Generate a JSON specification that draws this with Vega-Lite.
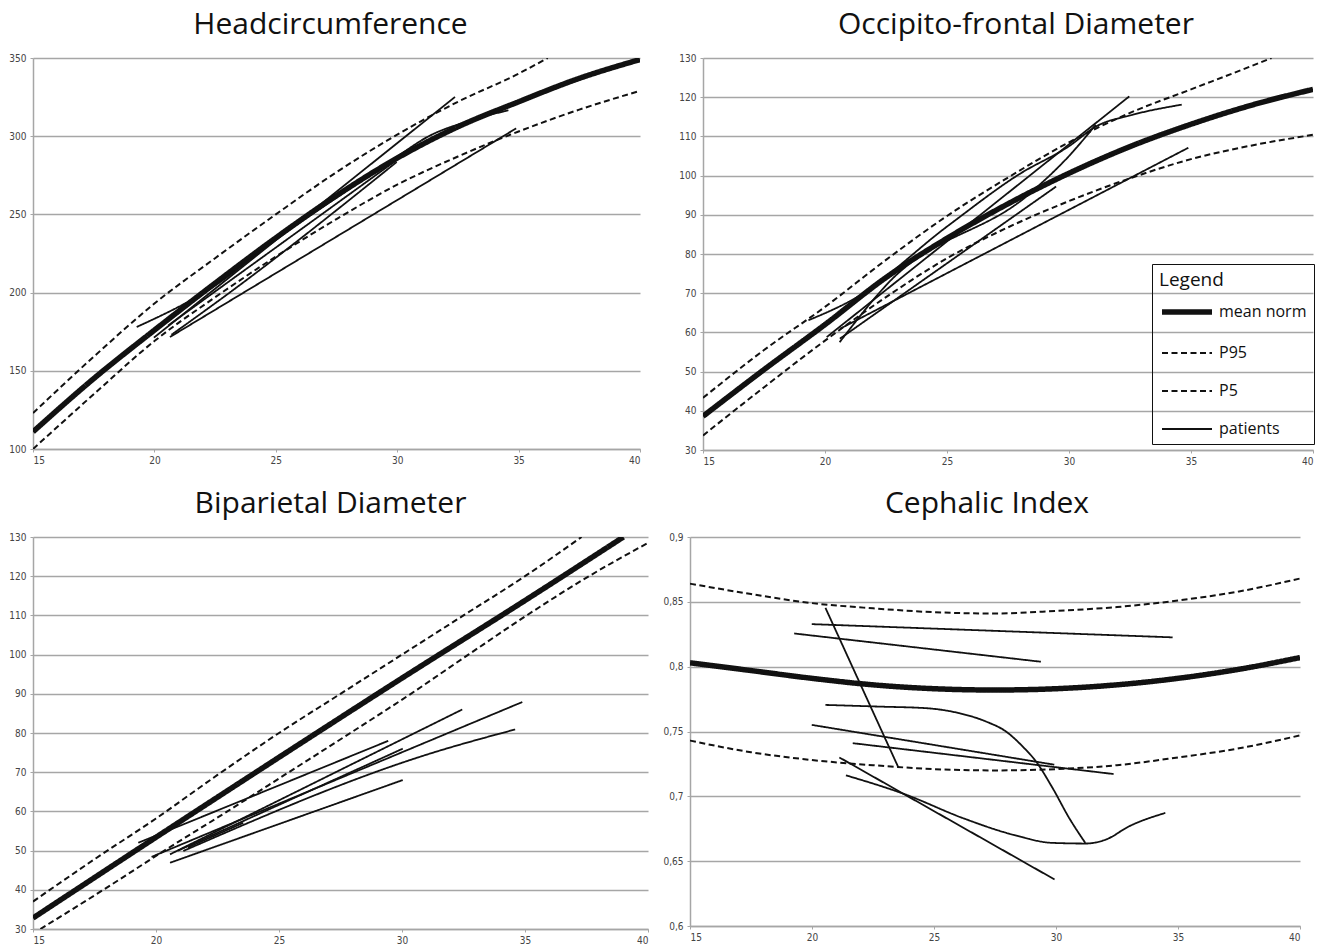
{
  "$schema": "https://vega.github.io/schema/vega-lite/v6.json",
  "padding": {"left": 5, "top": 10, "right": 5, "bottom": 5},
  "background": "white",
  "config": {
    "view": {"stroke": null},
    "font": "Open Sans",
    "title": {"font": "Open Sans", "fontSize": 30, "fontWeight": "normal", "color": "#111", "anchor": "middle", "offset": 13, "baseline": "alphabetic"},
    "axis": {"domainColor": "#a6a6a6", "domainWidth": 1.5, "gridColor": "#a6a6a6", "gridWidth": 1.5, "tickColor": "#a6a6a6", "tickSize": 3, "labelFont": "DejaVu Sans Condensed, Liberation Sans, sans-serif", "labelFontSize": 10, "labelColor": "#444", "title": null},
    "axisX": {"grid": false, "labelPadding": 3},
    "axisY": {"grid": true, "labelPadding": 4, "minExtent": 28, "maxExtent": 28}
  },
  "datasets": {
    "hc": [
      {"id": "mean", "kind": "mean norm", "x": 15, "y": 111}, {"id": "mean", "kind": "mean norm", "x": 17.5, "y": 145}, {"id": "mean", "kind": "mean norm", "x": 20, "y": 176}, {"id": "mean", "kind": "mean norm", "x": 22.5, "y": 206}, {"id": "mean", "kind": "mean norm", "x": 25, "y": 235}, {"id": "mean", "kind": "mean norm", "x": 27.5, "y": 262}, {"id": "mean", "kind": "mean norm", "x": 30, "y": 286}, {"id": "mean", "kind": "mean norm", "x": 32.5, "y": 306}, {"id": "mean", "kind": "mean norm", "x": 35, "y": 322}, {"id": "mean", "kind": "mean norm", "x": 37.5, "y": 337}, {"id": "mean", "kind": "mean norm", "x": 40, "y": 349},
      {"id": "p95", "kind": "P95", "x": 15, "y": 123}, {"id": "p95", "kind": "P95", "x": 17.5, "y": 159}, {"id": "p95", "kind": "P95", "x": 20, "y": 193}, {"id": "p95", "kind": "P95", "x": 22.5, "y": 222}, {"id": "p95", "kind": "P95", "x": 25, "y": 250}, {"id": "p95", "kind": "P95", "x": 27.5, "y": 277}, {"id": "p95", "kind": "P95", "x": 30, "y": 301}, {"id": "p95", "kind": "P95", "x": 32.5, "y": 322}, {"id": "p95", "kind": "P95", "x": 35, "y": 340}, {"id": "p95", "kind": "P95", "x": 36.2, "y": 350},
      {"id": "p5", "kind": "P5", "x": 15, "y": 100}, {"id": "p5", "kind": "P5", "x": 17.5, "y": 135}, {"id": "p5", "kind": "P5", "x": 20, "y": 169}, {"id": "p5", "kind": "P5", "x": 22.5, "y": 197}, {"id": "p5", "kind": "P5", "x": 25, "y": 223}, {"id": "p5", "kind": "P5", "x": 27.5, "y": 247}, {"id": "p5", "kind": "P5", "x": 30, "y": 269}, {"id": "p5", "kind": "P5", "x": 32.5, "y": 287}, {"id": "p5", "kind": "P5", "x": 35, "y": 303}, {"id": "p5", "kind": "P5", "x": 37.5, "y": 317}, {"id": "p5", "kind": "P5", "x": 40, "y": 329},
      {"id": "h1", "kind": "patients", "x": 19.27, "y": 178}, {"id": "h1", "kind": "patients", "x": 22.4, "y": 203.5}, {"id": "h1", "kind": "patients", "x": 25, "y": 234}, {"id": "h1", "kind": "patients", "x": 28, "y": 266}, {"id": "h1", "kind": "patients", "x": 30, "y": 287}, {"id": "h1", "kind": "patients", "x": 31.3, "y": 300}, {"id": "h1", "kind": "patients", "x": 32.8, "y": 309}, {"id": "h1", "kind": "patients", "x": 34.58, "y": 316.6},
      {"id": "h2", "kind": "patients", "x": 19.98, "y": 171.2}, {"id": "h2", "kind": "patients", "x": 32.38, "y": 325.1},
      {"id": "h3", "kind": "patients", "x": 20.57, "y": 179}, {"id": "h3", "kind": "patients", "x": 30.0, "y": 285},
      {"id": "h4", "kind": "patients", "x": 20.64, "y": 171.6}, {"id": "h4", "kind": "patients", "x": 34.9, "y": 305},
      {"id": "h5", "kind": "patients", "x": 20.7, "y": 173}, {"id": "h5", "kind": "patients", "x": 23.1, "y": 200}, {"id": "h5", "kind": "patients", "x": 29.98, "y": 283.5}
    ],
    "ofd": [
      {"id": "mean", "kind": "mean norm", "x": 15, "y": 38.6}, {"id": "mean", "kind": "mean norm", "x": 17.5, "y": 50.5}, {"id": "mean", "kind": "mean norm", "x": 20, "y": 62}, {"id": "mean", "kind": "mean norm", "x": 22.5, "y": 74}, {"id": "mean", "kind": "mean norm", "x": 25, "y": 84}, {"id": "mean", "kind": "mean norm", "x": 27.5, "y": 92.8}, {"id": "mean", "kind": "mean norm", "x": 30, "y": 100.6}, {"id": "mean", "kind": "mean norm", "x": 32.5, "y": 107.4}, {"id": "mean", "kind": "mean norm", "x": 35, "y": 113.1}, {"id": "mean", "kind": "mean norm", "x": 37.5, "y": 118}, {"id": "mean", "kind": "mean norm", "x": 40, "y": 122},
      {"id": "p95", "kind": "P95", "x": 15, "y": 43.3}, {"id": "p95", "kind": "P95", "x": 17.5, "y": 55.5}, {"id": "p95", "kind": "P95", "x": 20, "y": 66.5}, {"id": "p95", "kind": "P95", "x": 22.5, "y": 78.5}, {"id": "p95", "kind": "P95", "x": 25, "y": 89.7}, {"id": "p95", "kind": "P95", "x": 27.5, "y": 99.5}, {"id": "p95", "kind": "P95", "x": 30, "y": 108.5}, {"id": "p95", "kind": "P95", "x": 32.5, "y": 116}, {"id": "p95", "kind": "P95", "x": 35, "y": 122}, {"id": "p95", "kind": "P95", "x": 37.5, "y": 128}, {"id": "p95", "kind": "P95", "x": 38.3, "y": 130},
      {"id": "p5", "kind": "P5", "x": 15, "y": 33.7}, {"id": "p5", "kind": "P5", "x": 17.5, "y": 46}, {"id": "p5", "kind": "P5", "x": 20, "y": 57.9}, {"id": "p5", "kind": "P5", "x": 22.5, "y": 69}, {"id": "p5", "kind": "P5", "x": 25, "y": 78.9}, {"id": "p5", "kind": "P5", "x": 27.5, "y": 86.8}, {"id": "p5", "kind": "P5", "x": 30, "y": 93.5}, {"id": "p5", "kind": "P5", "x": 32.5, "y": 99.3}, {"id": "p5", "kind": "P5", "x": 35, "y": 104.2}, {"id": "p5", "kind": "P5", "x": 37.5, "y": 107.7}, {"id": "p5", "kind": "P5", "x": 40, "y": 110.4},
      {"id": "o1", "kind": "patients", "x": 19.32, "y": 63.1}, {"id": "o1", "kind": "patients", "x": 21.2, "y": 68.6}, {"id": "o1", "kind": "patients", "x": 25, "y": 87}, {"id": "o1", "kind": "patients", "x": 28, "y": 100.5}, {"id": "o1", "kind": "patients", "x": 30, "y": 107.5}, {"id": "o1", "kind": "patients", "x": 31.1, "y": 112.5}, {"id": "o1", "kind": "patients", "x": 32.6, "y": 115.5}, {"id": "o1", "kind": "patients", "x": 34.62, "y": 118.1},
      {"id": "o2", "kind": "patients", "x": 20.07, "y": 58.8}, {"id": "o2", "kind": "patients", "x": 32.47, "y": 120.2},
      {"id": "o3", "kind": "patients", "x": 20.61, "y": 58.4}, {"id": "o3", "kind": "patients", "x": 29.47, "y": 97.2},
      {"id": "o4", "kind": "patients", "x": 20.61, "y": 60.9}, {"id": "o4", "kind": "patients", "x": 34.89, "y": 107.1},
      {"id": "o5", "kind": "patients", "x": 20.6, "y": 57.5}, {"id": "o5", "kind": "patients", "x": 22.5, "y": 72}, {"id": "o5", "kind": "patients", "x": 28.5, "y": 96}, {"id": "o5", "kind": "patients", "x": 30.0, "y": 105}, {"id": "o5", "kind": "patients", "x": 31.1, "y": 113}
    ],
    "bpd": [
      {"id": "mean", "kind": "mean norm", "x": 15, "y": 32.8}, {"id": "mean", "kind": "mean norm", "x": 20, "y": 53.4}, {"id": "mean", "kind": "mean norm", "x": 25, "y": 73.8}, {"id": "mean", "kind": "mean norm", "x": 30, "y": 94}, {"id": "mean", "kind": "mean norm", "x": 35, "y": 113.8}, {"id": "mean", "kind": "mean norm", "x": 39, "y": 130},
      {"id": "p95", "kind": "P95", "x": 15, "y": 37}, {"id": "p95", "kind": "P95", "x": 17.5, "y": 47.8}, {"id": "p95", "kind": "P95", "x": 20, "y": 58.2}, {"id": "p95", "kind": "P95", "x": 22.5, "y": 69.3}, {"id": "p95", "kind": "P95", "x": 25, "y": 80}, {"id": "p95", "kind": "P95", "x": 27.5, "y": 90}, {"id": "p95", "kind": "P95", "x": 30, "y": 100}, {"id": "p95", "kind": "P95", "x": 32.5, "y": 110}, {"id": "p95", "kind": "P95", "x": 35, "y": 120}, {"id": "p95", "kind": "P95", "x": 37.3, "y": 130},
      {"id": "p5", "kind": "P5", "x": 15.3, "y": 30}, {"id": "p5", "kind": "P5", "x": 17.86, "y": 40}, {"id": "p5", "kind": "P5", "x": 20.34, "y": 50}, {"id": "p5", "kind": "P5", "x": 22.9, "y": 60}, {"id": "p5", "kind": "P5", "x": 25.4, "y": 70}, {"id": "p5", "kind": "P5", "x": 27.9, "y": 80}, {"id": "p5", "kind": "P5", "x": 30.36, "y": 90}, {"id": "p5", "kind": "P5", "x": 32.7, "y": 100}, {"id": "p5", "kind": "P5", "x": 35.07, "y": 110}, {"id": "p5", "kind": "P5", "x": 37.6, "y": 120}, {"id": "p5", "kind": "P5", "x": 40, "y": 128.5},
      {"id": "b1", "kind": "patients", "x": 19.28, "y": 52.0}, {"id": "b1", "kind": "patients", "x": 29.44, "y": 78.0},
      {"id": "b2", "kind": "patients", "x": 19.82, "y": 48.4}, {"id": "b2", "kind": "patients", "x": 34.89, "y": 87.9},
      {"id": "b3", "kind": "patients", "x": 20.57, "y": 49.05}, {"id": "b3", "kind": "patients", "x": 32.45, "y": 86.0},
      {"id": "b4", "kind": "patients", "x": 21.11, "y": 49.9}, {"id": "b4", "kind": "patients", "x": 31.27, "y": 75.0}, {"id": "b4", "kind": "patients", "x": 34.6, "y": 80.9},
      {"id": "b5", "kind": "patients", "x": 20.9, "y": 50.0}, {"id": "b5", "kind": "patients", "x": 30.03, "y": 76.0},
      {"id": "b6", "kind": "patients", "x": 20.57, "y": 46.9}, {"id": "b6", "kind": "patients", "x": 30.03, "y": 68.0},
      {"id": "b7", "kind": "patients", "x": 21.3, "y": 50.8}, {"id": "b7", "kind": "patients", "x": 23.55, "y": 57.1}
    ],
    "ci": [
      {"id": "mean", "kind": "mean norm", "x": 15, "y": 0.803}, {"id": "mean", "kind": "mean norm", "x": 17.5, "y": 0.797}, {"id": "mean", "kind": "mean norm", "x": 20, "y": 0.791}, {"id": "mean", "kind": "mean norm", "x": 22.5, "y": 0.786}, {"id": "mean", "kind": "mean norm", "x": 25, "y": 0.783}, {"id": "mean", "kind": "mean norm", "x": 27.5, "y": 0.782}, {"id": "mean", "kind": "mean norm", "x": 30, "y": 0.783}, {"id": "mean", "kind": "mean norm", "x": 32.5, "y": 0.786}, {"id": "mean", "kind": "mean norm", "x": 35, "y": 0.791}, {"id": "mean", "kind": "mean norm", "x": 37.5, "y": 0.798}, {"id": "mean", "kind": "mean norm", "x": 40, "y": 0.807},
      {"id": "p95", "kind": "P95", "x": 15, "y": 0.864}, {"id": "p95", "kind": "P95", "x": 17.5, "y": 0.856}, {"id": "p95", "kind": "P95", "x": 20, "y": 0.849}, {"id": "p95", "kind": "P95", "x": 22.5, "y": 0.845}, {"id": "p95", "kind": "P95", "x": 25, "y": 0.842}, {"id": "p95", "kind": "P95", "x": 27.5, "y": 0.841}, {"id": "p95", "kind": "P95", "x": 30, "y": 0.843}, {"id": "p95", "kind": "P95", "x": 32.5, "y": 0.846}, {"id": "p95", "kind": "P95", "x": 35, "y": 0.851}, {"id": "p95", "kind": "P95", "x": 37.5, "y": 0.858}, {"id": "p95", "kind": "P95", "x": 40, "y": 0.868},
      {"id": "p5", "kind": "P5", "x": 15, "y": 0.743}, {"id": "p5", "kind": "P5", "x": 17.5, "y": 0.734}, {"id": "p5", "kind": "P5", "x": 20, "y": 0.728}, {"id": "p5", "kind": "P5", "x": 22.5, "y": 0.724}, {"id": "p5", "kind": "P5", "x": 25, "y": 0.721}, {"id": "p5", "kind": "P5", "x": 27.5, "y": 0.72}, {"id": "p5", "kind": "P5", "x": 30, "y": 0.721}, {"id": "p5", "kind": "P5", "x": 32.5, "y": 0.724}, {"id": "p5", "kind": "P5", "x": 35, "y": 0.73}, {"id": "p5", "kind": "P5", "x": 37.5, "y": 0.737}, {"id": "p5", "kind": "P5", "x": 40, "y": 0.747},
      {"id": "c1", "kind": "patients", "x": 19.99, "y": 0.8328}, {"id": "c1", "kind": "patients", "x": 34.78, "y": 0.8226},
      {"id": "c2", "kind": "patients", "x": 19.27, "y": 0.8256}, {"id": "c2", "kind": "patients", "x": 29.38, "y": 0.8038},
      {"id": "c3", "kind": "patients", "x": 20.55, "y": 0.8454}, {"id": "c3", "kind": "patients", "x": 23.54, "y": 0.7223},
      {"id": "c4", "kind": "patients", "x": 20.55, "y": 0.7705}, {"id": "c4", "kind": "patients", "x": 22.76, "y": 0.7692}, {"id": "c4", "kind": "patients", "x": 24.67, "y": 0.768}, {"id": "c4", "kind": "patients", "x": 26.04, "y": 0.7641}, {"id": "c4", "kind": "patients", "x": 27.13, "y": 0.7577}, {"id": "c4", "kind": "patients", "x": 27.95, "y": 0.75}, {"id": "c4", "kind": "patients", "x": 28.63, "y": 0.7385}, {"id": "c4", "kind": "patients", "x": 29.18, "y": 0.7269}, {"id": "c4", "kind": "patients", "x": 29.86, "y": 0.7064}, {"id": "c4", "kind": "patients", "x": 30.54, "y": 0.6833}, {"id": "c4", "kind": "patients", "x": 31.2, "y": 0.6641},
      {"id": "c5", "kind": "patients", "x": 19.99, "y": 0.7551}, {"id": "c5", "kind": "patients", "x": 29.93, "y": 0.7244},
      {"id": "c6", "kind": "patients", "x": 21.67, "y": 0.741}, {"id": "c6", "kind": "patients", "x": 32.36, "y": 0.7172},
      {"id": "c7", "kind": "patients", "x": 21.12, "y": 0.73}, {"id": "c7", "kind": "patients", "x": 29.94, "y": 0.6359},
      {"id": "c8", "kind": "patients", "x": 21.39, "y": 0.7162}, {"id": "c8", "kind": "patients", "x": 23.85, "y": 0.7013}, {"id": "c8", "kind": "patients", "x": 26.17, "y": 0.6833}, {"id": "c8", "kind": "patients", "x": 28.22, "y": 0.6705}, {"id": "c8", "kind": "patients", "x": 29.86, "y": 0.6641}, {"id": "c8", "kind": "patients", "x": 31.2, "y": 0.6636}, {"id": "c8", "kind": "patients", "x": 32.05, "y": 0.6667}, {"id": "c8", "kind": "patients", "x": 33, "y": 0.6769}, {"id": "c8", "kind": "patients", "x": 34.48, "y": 0.6872}
    ]
  },
  "spacing": 23,
  "resolve": {"scale": {"strokeDash": "independent", "strokeWidth": "independent"}, "legend": {"strokeDash": "independent", "strokeWidth": "independent"}},
  "vconcat": [
    {
      "bounds": "flush",
      "spacing": 63,
      "resolve": {"scale": {"strokeDash": "independent", "strokeWidth": "independent"}, "legend": {"strokeDash": "independent", "strokeWidth": "independent"}},
      "hconcat": [
        {
          "width": 607, "height": 391,
          "title": {"text": "Headcircumference", "dx": -6},
          "data": {"name": "hc"},
          "mark": {"type": "line", "interpolate": "monotone", "color": "#111", "clip": true},
          "encoding": {
            "x": {"field": "x", "type": "quantitative", "scale": {"domain": [15, 40], "nice": false, "zero": false}, "axis": {"values": [15, 20, 25, 30, 35, 40]}},
            "y": {"field": "y", "type": "quantitative", "scale": {"domain": [100, 350], "nice": false, "zero": false}, "axis": {"values": [100, 150, 200, 250, 300, 350]}},
            "detail": {"field": "id"},
            "strokeDash": {"field": "kind", "type": "nominal", "scale": {"type": "ordinal", "domain": ["mean norm", "P95", "P5", "patients"], "range": [[1, 0], [6, 3.5], [6, 3.5], [1, 0]]}, "legend": null},
            "strokeWidth": {"field": "kind", "type": "nominal", "scale": {"type": "ordinal", "domain": ["mean norm", "P95", "P5", "patients"], "range": [5.5, 2, 2, 1.8]}, "legend": null}
          }
        },
        {
          "width": 610, "height": 392,
          "title": {"text": "Occipito-frontal Diameter", "dx": 8},
          "data": {"name": "ofd"},
          "mark": {"type": "line", "interpolate": "monotone", "color": "#111", "clip": true},
          "encoding": {
            "x": {"field": "x", "type": "quantitative", "scale": {"domain": [15, 40], "nice": false, "zero": false}, "axis": {"values": [15, 20, 25, 30, 35, 40]}},
            "y": {"field": "y", "type": "quantitative", "scale": {"domain": [30, 130], "nice": false, "zero": false}, "axis": {"values": [30, 40, 50, 60, 70, 80, 90, 100, 110, 120, 130]}},
            "detail": {"field": "id"},
            "strokeDash": {"field": "kind", "type": "nominal", "title": "Legend", "scale": {"type": "ordinal", "domain": ["mean norm", "P95", "P5", "patients"], "range": [[1, 0], [6, 3.5], [6, 3.5], [1, 0]]},
              "legend": {"orient": "none", "legendX": 449, "legendY": 206, "symbolType": "stroke", "symbolSize": 2500, "symbolStrokeColor": "#111", "strokeColor": "#111", "padding": 7, "rowPadding": 4, "labelFont": "Open Sans", "labelFontSize": 16, "labelColor": "#111", "titleFont": "Open Sans", "titleFontSize": 19, "titleFontWeight": "normal", "titleColor": "#111", "titlePadding": -6, "labelOffset": 4}},
            "strokeWidth": {"field": "kind", "type": "nominal", "title": "Legend", "scale": {"type": "ordinal", "domain": ["mean norm", "P95", "P5", "patients"], "range": [5.5, 2, 2, 1.8]},
              "legend": {"orient": "none", "legendX": 449, "legendY": 206, "symbolType": "stroke", "symbolSize": 2500, "symbolStrokeColor": "#111", "strokeColor": "#111", "padding": 7, "rowPadding": 4, "labelFont": "Open Sans", "labelFontSize": 16, "labelColor": "#111", "titleFont": "Open Sans", "titleFontSize": 19, "titleFontWeight": "normal", "titleColor": "#111", "titlePadding": -6, "labelOffset": 4}}
          }
        }
      ]
    },
    {
      "bounds": "flush",
      "spacing": 42,
      "resolve": {"scale": {"strokeDash": "independent", "strokeWidth": "independent"}, "legend": {"strokeDash": "independent", "strokeWidth": "independent"}},
      "hconcat": [
        {
          "width": 615, "height": 392,
          "title": {"text": "Biparietal Diameter", "dx": -10},
          "data": {"name": "bpd"},
          "mark": {"type": "line", "interpolate": "monotone", "color": "#111", "clip": true},
          "encoding": {
            "x": {"field": "x", "type": "quantitative", "scale": {"domain": [15, 40], "nice": false, "zero": false}, "axis": {"values": [15, 20, 25, 30, 35, 40]}},
            "y": {"field": "y", "type": "quantitative", "scale": {"domain": [30, 130], "nice": false, "zero": false}, "axis": {"values": [30, 40, 50, 60, 70, 80, 90, 100, 110, 120, 130]}},
            "detail": {"field": "id"},
            "strokeDash": {"field": "kind", "type": "nominal", "scale": {"type": "ordinal", "domain": ["mean norm", "P95", "P5", "patients"], "range": [[1, 0], [6, 3.5], [6, 3.5], [1, 0]]}, "legend": null},
            "strokeWidth": {"field": "kind", "type": "nominal", "scale": {"type": "ordinal", "domain": ["mean norm", "P95", "P5", "patients"], "range": [5.5, 2, 2, 1.8]}, "legend": null}
          }
        },
        {
          "width": 610, "height": 389,
          "title": {"text": "Cephalic Index", "dx": -8},
          "data": {"name": "ci"},
          "mark": {"type": "line", "interpolate": "monotone", "color": "#111", "clip": true},
          "encoding": {
            "x": {"field": "x", "type": "quantitative", "scale": {"domain": [15, 40], "nice": false, "zero": false}, "axis": {"values": [15, 20, 25, 30, 35, 40]}},
            "y": {"field": "y", "type": "quantitative", "scale": {"domain": [0.6, 0.9], "nice": false, "zero": false}, "axis": {"values": [0.6, 0.65, 0.7, 0.75, 0.8, 0.85, 0.9], "labelExpr": "replace(toString(datum.value), '.', ',')"}},
            "detail": {"field": "id"},
            "strokeDash": {"field": "kind", "type": "nominal", "scale": {"type": "ordinal", "domain": ["mean norm", "P95", "P5", "patients"], "range": [[1, 0], [6, 3.5], [6, 3.5], [1, 0]]}, "legend": null},
            "strokeWidth": {"field": "kind", "type": "nominal", "scale": {"type": "ordinal", "domain": ["mean norm", "P95", "P5", "patients"], "range": [5.5, 2, 2, 1.8]}, "legend": null}
          }
        }
      ]
    }
  ]
}
